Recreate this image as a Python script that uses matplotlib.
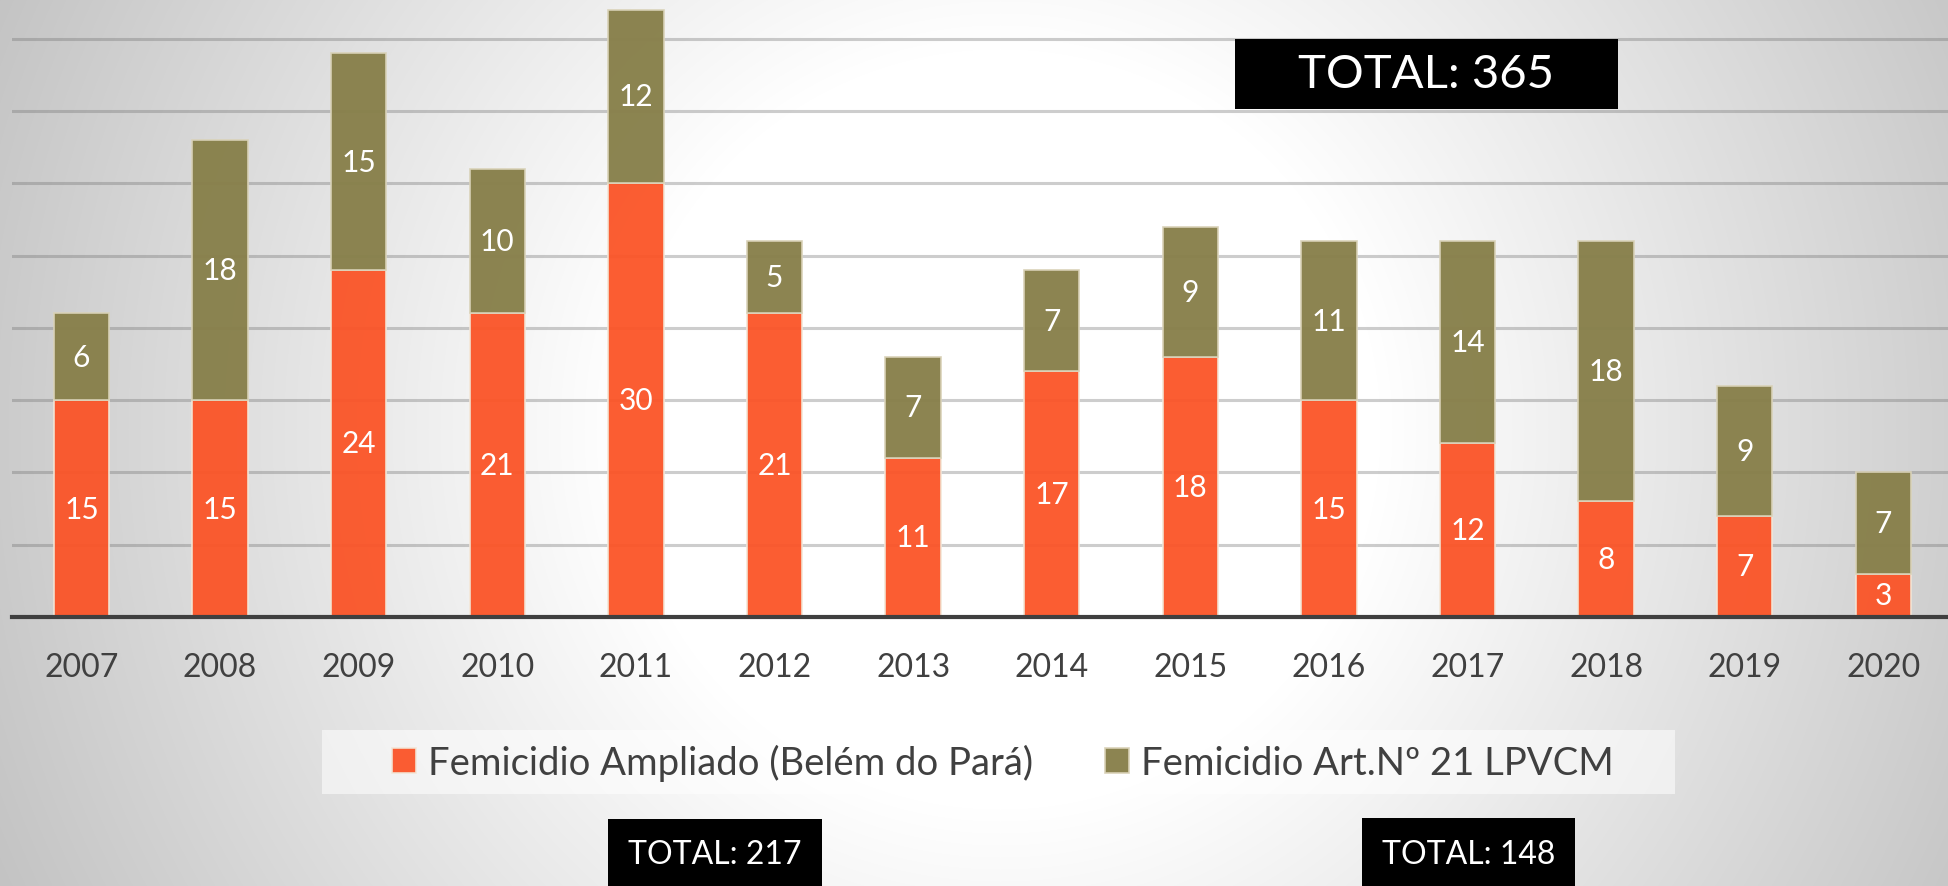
import numpy as np
import matplotlib
matplotlib.use("Agg")
import matplotlib.pyplot as plt
from matplotlib.patches import Rectangle

# ---- data ----
years = ["2007", "2008", "2009", "2010", "2011", "2012", "2013",
         "2014", "2015", "2016", "2017", "2018", "2019", "2020"]
ampliado = [15, 15, 24, 21, 30, 21, 11, 17, 18, 15, 12, 8, 7, 3]
art21 = [6, 18, 15, 10, 12, 5, 7, 7, 9, 11, 14, 18, 9, 7]
series_names = ["Femicidio Ampliado (Belém do Pará)", "Femicidio Art.Nº 21 LPVCM"]
total_all = "TOTAL: 365"
total_ampliado = "TOTAL: 217"
total_art21 = "TOTAL: 148"

ORANGE = "#fb5427"
OLIVE = "#88804b"
TXT = "#404040"

plt.rcParams["font.family"] = ["Lato", "DejaVu Sans"]

W, H = 1949, 887
fig = plt.figure(figsize=(W / 100, H / 100), dpi=100)


def fx(px):
    return px / W


def fy(py):
    return 1 - py / H


# background: radial grey-to-white gradient
bg = fig.add_axes([0, 0, 1, 1], zorder=-1)
yy, xx = np.mgrid[0:H, 0:W]
d = np.hypot(xx - 1000, yy - 430)
v = 255 - 60 * np.clip((d - 380) / 720, 0, 1)
bg.imshow(np.dstack([v, v, v]).astype(np.uint8), aspect="auto", extent=(0, W, H, 0))
bg.axis("off")

# ---- main chart ----
ax = fig.add_axes([fx(12.2), fy(618), fx(1940.4), 618 / H], zorder=0)
ax.set_facecolor("none")
x = np.arange(len(years))
b1 = ax.bar(x, ampliado, width=0.4, color=ORANGE, alpha=0.95,
            edgecolor="#f3e6d6", linewidth=1.2, zorder=2, label=series_names[0])
b2 = ax.bar(x, art21, width=0.4, bottom=ampliado, color=OLIVE, alpha=0.97,
            edgecolor="#d9d2b8", linewidth=1.2, zorder=2, label=series_names[1])
ax.bar_label(b1, label_type="center", color="white", fontsize=21.5)
ax.bar_label(b2, label_type="center", color="white", fontsize=21.5)

ax.set_xlim(-0.5, len(years) - 0.5)
ax.set_ylim(0, 42.74)
ax.set_yticks(np.arange(5, 41, 5))
ax.yaxis.grid(True, color="#707070", alpha=0.35, linewidth=2.2, zorder=1)
ax.set_axisbelow(True)
ax.tick_params(axis="y", left=False, labelleft=False)
ax.set_xticks(x, years)
ax.tick_params(axis="x", length=0, pad=25, labelsize=23, labelcolor=TXT)
for s in ["top", "left", "right"]:
    ax.spines[s].set_visible(False)
ax.spines["bottom"].set_color("#3f3f3f")
ax.spines["bottom"].set_linewidth(3)
ax.spines["bottom"].set_zorder(3)

# ---- legend with soft background ----
fig.add_artist(Rectangle((fx(322), fy(795)), fx(1353), (795 - 731) / H,
                         transform=fig.transFigure, facecolor="white", alpha=0.55,
                         edgecolor="none", zorder=2))
leg = fig.legend(handles=[b1, b2], labels=series_names, loc="center left",
                 bbox_to_anchor=(fx(392), fy(763)), ncol=2, frameon=False,
                 fontsize=27.5, handlelength=0.63, handleheight=0.63,
                 handletextpad=0.31, columnspacing=1.88, borderpad=0,
                 borderaxespad=0, labelcolor=TXT)
leg.set_zorder(4)

# ---- total boxes ----
boxes = [
    (total_all, 1235, 40, 1618, 110, 75, 34),
    (total_ampliado, 608, 820, 822, 900, 855, 23),
    (total_art21, 1362, 819, 1575, 900, 855, 23),
]
for label, x0, y0, x1, y1, cy, fs in boxes:
    fig.add_artist(Rectangle((fx(x0), fy(y1)), fx(x1 - x0), (y1 - y0) / H,
                             transform=fig.transFigure, facecolor="black",
                             edgecolor="none", zorder=3))
    fig.text(fx((x0 + x1) / 2), fy(cy), label, color="white", fontsize=fs,
             ha="center", va="center", zorder=5)

fig.savefig("out.png", dpi=100)
